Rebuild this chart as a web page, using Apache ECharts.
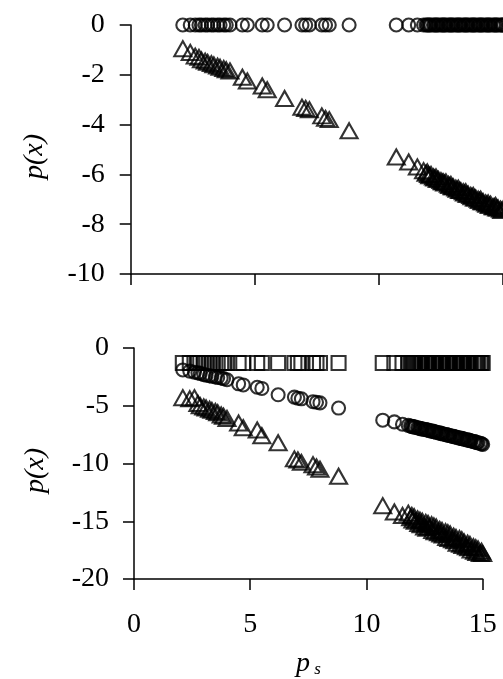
<!DOCTYPE html>
<html>
<head>
<meta charset="utf-8">
<title>p(x) vs ps</title>
<script src="https://cdn.jsdelivr.net/npm/echarts/dist/echarts.min.js"></script>
<style>
  html, body { margin: 0; padding: 0; background: #fff; }
  #chart { width: 503px; height: 679px; }
</style>
</head>
<body>
<div id="chart"></div>
<script>
  // x values (ps), left and right groups - same x used by every series
  const xL = [2.1, 2.4, 2.6, 2.75, 2.85, 3.0, 3.1, 3.25, 3.35, 3.5, 3.6, 3.75, 3.85, 4.0, 4.5, 4.7, 5.3, 5.5, 6.2, 6.9, 7.05, 7.2, 7.7, 7.85, 8.0, 8.8];
  const xR = [10.7, 11.2, 11.55, 11.8, 11.9, 11.95, 12.0, 12.05, 12.1, 12.2, 12.25, 12.3, 12.35, 12.4, 12.5, 12.55, 12.6, 12.65, 12.7, 12.8,
    12.85, 12.9, 12.95, 13.0, 13.1, 13.15, 13.2, 13.25, 13.3, 13.4, 13.45, 13.5, 13.55, 13.6, 13.7, 13.75, 13.8, 13.85, 13.9, 14.0,
    14.05, 14.1, 14.15, 14.2, 14.3, 14.35, 14.4, 14.45, 14.5, 14.6, 14.65, 14.7, 14.75, 14.8, 14.9, 14.95, 15.0];

  // top panel
  const topCircleLevel = 0;
  const topTriL = [-0.95, -1.1, -1.25, -1.3, -1.4, -1.45, -1.5, -1.55, -1.6, -1.65, -1.7, -1.75, -1.8, -1.85, -2.1, -2.25, -2.45, -2.6, -2.95, -3.3, -3.35, -3.4, -3.65, -3.75, -3.8, -4.25];
  const topTriR = [-5.3, -5.5, -5.7, -5.85, -5.95, -5.9, -6.0, -6.05, -6.0, -6.1, -6.15, -6.1, -6.2, -6.2, -6.25, -6.3, -6.3, -6.35, -6.3, -6.4,
    -6.45, -6.4, -6.5, -6.5, -6.55, -6.6, -6.55, -6.65, -6.65, -6.7, -6.75, -6.7, -6.8, -6.8, -6.85, -6.9, -6.85, -6.95, -6.95, -7.0,
    -7.05, -7.0, -7.1, -7.1, -7.15, -7.2, -7.15, -7.25, -7.2, -7.3, -7.3, -7.25, -7.35, -7.35, -7.4, -7.45, -7.4];

  // bottom panel
  const botSquareLevel = -1.3;
  const botCirL = [-1.9, -2.0, -2.1, -2.15, -2.2, -2.3, -2.35, -2.4, -2.45, -2.5, -2.55, -2.6, -2.65, -2.75, -3.1, -3.2, -3.4, -3.5, -4.05, -4.25, -4.35, -4.4, -4.65, -4.7, -4.75, -5.2];
  const botCirR = [-6.25, -6.4, -6.6, -6.7, -6.75, -6.8, -6.8, -6.85, -6.85, -6.9, -6.95, -6.95, -7.0, -7.0, -7.05, -7.05, -7.1, -7.1, -7.15, -7.2,
    -7.2, -7.25, -7.25, -7.3, -7.35, -7.35, -7.4, -7.4, -7.45, -7.5, -7.5, -7.55, -7.55, -7.6, -7.65, -7.65, -7.7, -7.7, -7.75, -7.8,
    -7.8, -7.85, -7.85, -7.9, -7.95, -7.95, -8.0, -8.0, -8.05, -8.1, -8.1, -8.15, -8.2, -8.2, -8.25, -8.3, -8.35];
  const botTriL = [-4.3, -4.4, -4.3, -4.8, -5.0, -5.1, -5.2, -5.3, -5.4, -5.5, -5.6, -5.8, -5.9, -6.1, -6.5, -6.9, -7.1, -7.6, -8.2, -9.6, -9.7, -9.9, -10.1, -10.3, -10.5, -11.1];
  const botTriR = [-13.65, -14.2, -14.5, -14.3, -14.7, -14.5, -14.9, -14.6, -15.0, -14.8, -15.2, -14.9, -15.3, -15.0, -15.5, -15.1, -15.6, -15.2, -15.5, -15.3,
    -15.8, -15.4, -15.9, -15.5, -16.0, -15.7, -16.1, -15.8, -16.2, -15.9, -16.4, -16.0, -16.5, -16.1, -16.6, -16.3, -16.7, -16.4, -16.9, -16.5,
    -17.0, -16.6, -17.1, -16.8, -17.2, -16.9, -17.3, -17.0, -17.5, -17.2, -17.6, -17.3, -17.7, -17.4, -17.8, -17.6, -17.8];

  const xTicks = [0, 15, 5]; // min, max, interval
  const yTopTicks = [-10, 0, 2];
  const yBotTicks = [-20, 0, 5];

  const FONT = "'Liberation Serif', 'DejaVu Serif', serif";
  const allX = xL.concat(xR);

  function pairs(xs, ys) {
    return xs.map((x, i) => [x, ys[i]]);
  }
  function level(xs, v) {
    return xs.map(x => [x, v]);
  }

  // hollow marks, outlines overlap like in the print
  const markStyle = {
    color: 'rgba(255,255,255,0)',
    borderColor: '#000',
    borderWidth: 2.1
  };

  function axisCommon() {
    return {
      axisLine: { show: true, onZero: false, lineStyle: { color: '#000', width: 1.5 } },
      axisTick: { show: true, inside: false, length: 11, lineStyle: { color: '#000', width: 1.5 } },
      splitLine: { show: false },
      axisLabel: { color: '#000', fontFamily: FONT, fontSize: 28 }
    };
  }

  function scatter(name, xi, yi, symbol, size, data) {
    return {
      name: name,
      type: 'scatter',
      xAxisIndex: xi,
      yAxisIndex: yi,
      symbol: symbol,
      symbolSize: size,
      clip: false,
      itemStyle: markStyle,
      data: data
    };
  }

  let myChart = echarts.init(document.getElementById('chart'), null, { renderer: 'canvas' });

  let yName = {
    name: 'p(x)',
    nameLocation: 'middle',
    nameRotate: 90,
    nameTextStyle: { fontFamily: FONT, fontStyle: 'italic', fontSize: 28, color: '#000', padding: [0, 14, 0, 0] }
  };

  let option = {
    backgroundColor: '#fff',
    animation: false,
    grid: [
      { left: 130.7, top: 25, width: 378, height: 249 },
      { left: 134, top: 348, width: 348.7, height: 231 }
    ],
    xAxis: [
      Object.assign(axisCommon(), {
        type: 'value', gridIndex: 0,
        min: xTicks[0], max: xTicks[1], interval: xTicks[2],
        axisLabel: { show: false }
      }),
      Object.assign(axisCommon(), {
        type: 'value', gridIndex: 1,
        min: xTicks[0], max: xTicks[1], interval: xTicks[2],
        axisLabel: { color: '#000', fontFamily: FONT, fontSize: 28, margin: 32 },
        name: '{p|p}{s| s}',
        nameLocation: 'middle',
        nameGap: 70,
        nameTextStyle: {
          rich: {
            p: { fontFamily: FONT, fontStyle: 'italic', fontSize: 28, color: '#000' },
            s: { fontFamily: FONT, fontStyle: 'italic', fontSize: 17, color: '#000', verticalAlign: 'bottom', padding: [12, 0, 0, 0] }
          }
        }
      })
    ],
    yAxis: [
      Object.assign(axisCommon(), yName, {
        type: 'value', gridIndex: 0,
        min: yTopTicks[0], max: yTopTicks[1], interval: yTopTicks[2],
        nameGap: 82,
        axisLabel: { color: '#000', fontFamily: FONT, fontSize: 28, margin: 26 }
      }),
      Object.assign(axisCommon(), yName, {
        type: 'value', gridIndex: 1,
        min: yBotTicks[0], max: yBotTicks[1], interval: yBotTicks[2],
        nameGap: 84,
        axisLabel: { color: '#000', fontFamily: FONT, fontSize: 28, margin: 25 }
      })
    ],
    series: [
      // top
      scatter('top-tri-L', 0, 0, 'triangle', [17, 15], pairs(xL, topTriL)),
      scatter('top-tri-R', 0, 0, 'triangle', [17, 15], pairs(xR, topTriR)),
      scatter('top-circle', 0, 0, 'circle', 13, level(allX, topCircleLevel)),
      // bottom
      scatter('bot-tri-L', 1, 1, 'triangle', [17, 15], pairs(xL, botTriL)),
      scatter('bot-tri-R', 1, 1, 'triangle', [17, 15], pairs(xR, botTriR)),
      scatter('bot-cir-L', 1, 1, 'circle', 13, pairs(xL, botCirL)),
      scatter('bot-cir-R', 1, 1, 'circle', 13, pairs(xR, botCirR)),
      scatter('bot-square', 1, 1, 'rect', 14, level(allX, botSquareLevel))
    ]
  };

  myChart.setOption(option);
</script>
</body>
</html>
